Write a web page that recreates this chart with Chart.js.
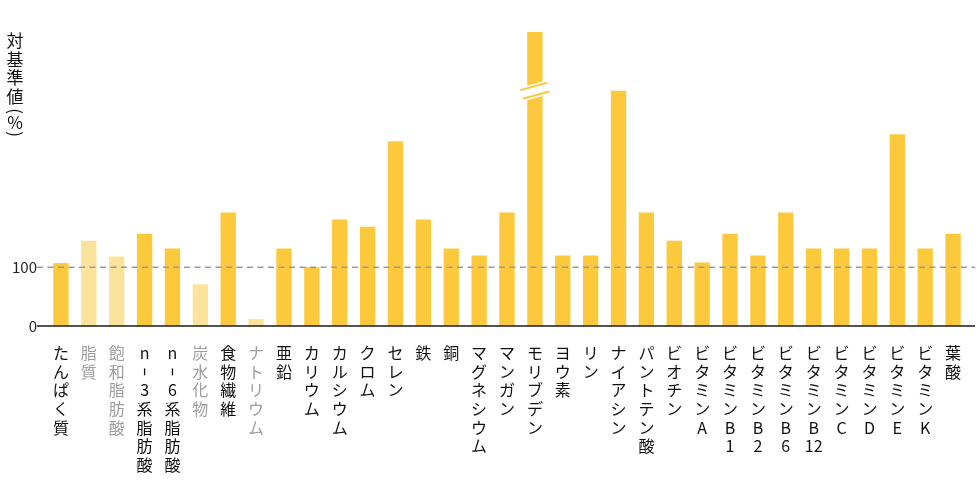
<!DOCTYPE html>
<html>
<head>
<meta charset="utf-8">
<script src="https://cdn.jsdelivr.net/npm/chart.js@4"></script>
<style>
  html, body { margin: 0; padding: 0; background: #fff; }
  #wrap { width: 980px; height: 490px; position: relative; }
</style>
</head>
<body>
<div id="wrap"><canvas id="chart"></canvas></div>
<script>
// nutrients along the x axis
const nutrients = [
  'たんぱく質', '脂質', '飽和脂肪酸', 'n-3系脂肪酸', 'n-6系脂肪酸', '炭水化物', '食物繊維', 'ナトリウム',
  '亜鉛', 'カリウム', 'カルシウム', 'クロム', 'セレン', '鉄', '銅', 'マグネシウム', 'マンガン', 'モリブデン',
  'ヨウ素', 'リン', 'ナイアシン', 'パントテン酸', 'ビオチン', 'ビタミンA', 'ビタミンB1', 'ビタミンB2',
  'ビタミンB6', 'ビタミンB12', 'ビタミンC', 'ビタミンD', 'ビタミンE', 'ビタミンK', '葉酸'
];
// % of reference value (モリブデン runs off the top)
const ratio = [
  107, 145, 118, 157, 132, 71, 193, 12,
  132, 100, 181, 169, 314, 181, 132, 120, 193, 800,
  120, 120, 400, 193, 145, 108, 157, 120,
  193, 132, 132, 132, 326, 132, 157
];
// drawn pale, with grey labels
const paleItems = ['脂質', '飽和脂肪酸', '炭水化物', 'ナトリウム'];
const brokenItem = 'モリブデン';
const yTicks = [0, 100];
const yMax = 500;
const breakAt = 400;

const YELLOW = '#fcc93c';
const PALE = '#fbe39b';
const LABEL_SIZE = 16;
const LABEL_LH = 1.16;
const LABEL_PAD = 18;

// stack the characters of a label, keeping digit runs together
// (the hyphen is left blank here and drawn as a short upright stroke)
function stackLabel(s) {
  const out = [];
  for (const ch of Array.from(s)) {
    const last = out[out.length - 1];
    if (/[0-9]/.test(ch) && last && /^[0-9]+$/.test(last)) {
      out[out.length - 1] = last + ch;
    } else {
      out.push(ch === '-' ? ' ' : ch);
    }
  }
  return out;
}

const extras = {
  id: 'extras',
  afterDatasetsDraw(chart) {
    const ctx = chart.ctx;
    const area = chart.chartArea;
    const y = chart.scales.y;
    const x = chart.scales.x;

    // broken bar marker
    const i = nutrients.indexOf(brokenItem);
    const bar = chart.getDatasetMeta(0).data[i];
    const by = y.getPixelForValue(breakAt);
    ctx.save();
    ctx.translate(bar.x, by);
    ctx.rotate(-0.27);
    ctx.fillStyle = '#fff';
    ctx.fillRect(-bar.width, -7, bar.width * 2, 14);
    ctx.strokeStyle = YELLOW;
    ctx.lineWidth = 2;
    const half = bar.width / 2 + 6;
    ctx.beginPath();
    ctx.moveTo(-half, -4.5); ctx.lineTo(half, -4.5);
    ctx.moveTo(-half, 4.5); ctx.lineTo(half, 4.5);
    ctx.stroke();
    ctx.restore();

    // reference line at 100
    const y100 = y.getPixelForValue(100);
    ctx.save();
    ctx.strokeStyle = '#9a9a9a';
    ctx.lineWidth = 1.5;
    ctx.setLineDash([6, 4.5]);
    ctx.beginPath();
    ctx.moveTo(area.left - 10, y100);
    ctx.lineTo(area.right + 8, y100);
    ctx.stroke();
    ctx.restore();

    // baseline
    const y0 = y.getPixelForValue(0);
    ctx.save();
    ctx.strokeStyle = '#1a1a1a';
    ctx.lineWidth = 1.6;
    ctx.beginPath();
    ctx.moveTo(area.left - 10, y0);
    ctx.lineTo(area.right + 8, y0);
    ctx.stroke();
    ctx.restore();

    // upright hyphen in stacked labels (n-3, n-6)
    const lh = LABEL_SIZE * LABEL_LH;
    ctx.save();
    ctx.strokeStyle = '#111';
    ctx.lineWidth = 1.3;
    nutrients.forEach((n, k) => {
      const pos = Array.from(n).indexOf('-');
      if (pos < 0) return;
      const cx = x.getPixelForTick(k);
      const cy = x.top + LABEL_PAD + lh * (pos + 0.5);
      ctx.beginPath();
      ctx.moveTo(cx, cy - 3.5);
      ctx.lineTo(cx, cy + 3.5);
      ctx.stroke();
    });
    ctx.restore();

    // vertical axis title
    ctx.save();
    ctx.fillStyle = '#111';
    ctx.font = "17px 'Noto Sans CJK JP', sans-serif";
    ctx.textAlign = 'center';
    ctx.textBaseline = 'middle';
    const tx = 15;
    const t0 = area.top + 9;
    ['対', '基', '準', '値'].forEach((c, k) => ctx.fillText(c, tx, t0 + k * 18.5));
    ctx.fillText('%', tx, t0 + 82);
    ctx.save(); ctx.translate(tx, t0 + 70); ctx.rotate(Math.PI / 2); ctx.fillText('(', 0, 0); ctx.restore();
    ctx.save(); ctx.translate(tx, t0 + 93); ctx.rotate(Math.PI / 2); ctx.fillText(')', 0, 0); ctx.restore();
    ctx.restore();
  }
};

Chart.defaults.font.family = "'Noto Sans CJK JP', 'Noto Sans', sans-serif";

new Chart(document.getElementById('chart'), {
  type: 'bar',
  data: {
    labels: nutrients.map(stackLabel),
    datasets: [{
      data: ratio,
      backgroundColor: nutrients.map(n => paleItems.includes(n) ? PALE : YELLOW),
      barPercentage: 0.55,
      categoryPercentage: 1,
      clip: 0
    }]
  },
  options: {
    responsive: true,
    maintainAspectRatio: false,
    animation: false,
    layout: { padding: { top: 32, right: 13, left: 0, bottom: 0 } },
    plugins: { legend: { display: false }, tooltip: { enabled: false } },
    scales: {
      x: {
        grid: { display: false, drawTicks: false },
        border: { display: false },
        ticks: {
          autoSkip: false,
          maxRotation: 0,
          minRotation: 0,
          padding: LABEL_PAD,
          font: { size: LABEL_SIZE, lineHeight: LABEL_LH },
          color: ctx => paleItems.includes(nutrients[ctx.index]) ? '#9d9d9d' : '#111'
        },
        afterFit: s => { s.height = 164; }
      },
      y: {
        min: 0,
        max: yMax,
        grid: { display: false, drawTicks: false },
        border: { display: false },
        afterBuildTicks: s => { s.ticks = yTicks.map(v => ({ value: v })); },
        ticks: { padding: 10, color: '#222', font: { size: 15 } },
        afterFit: s => { s.width = 47; }
      }
    }
  },
  plugins: [extras]
});
</script>
</body>
</html>
